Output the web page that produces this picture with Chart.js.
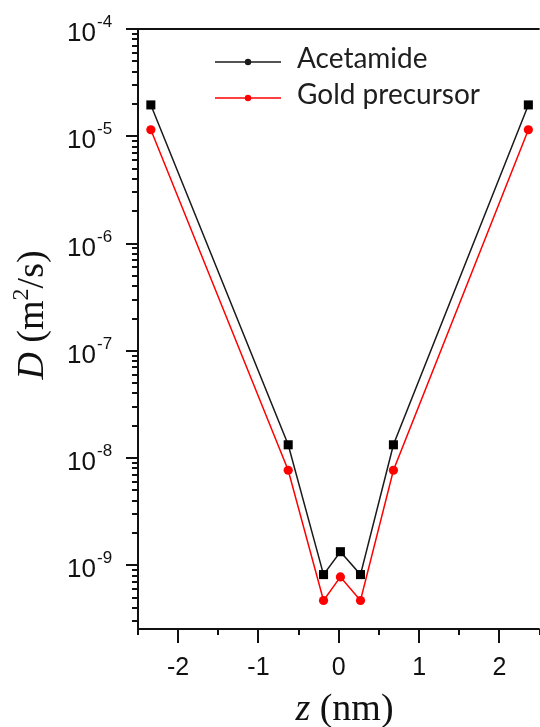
<!DOCTYPE html>
<html>
<head>
<meta charset="utf-8">
<script src="https://cdn.jsdelivr.net/npm/chart.js@4/dist/chart.umd.min.js"></script>
<style>
html,body{margin:0;padding:0;background:#fff;overflow:hidden;}
#wrap{width:546px;height:727px;}
</style>
</head>
<body>
<div id="wrap"><canvas id="c" width="546" height="727"></canvas></div>
<script>
// ---- data ----
const zValues = [-2.34, -0.63, -0.19, 0.02, 0.27, 0.68, 2.36];
const acetamideD = [1.96e-5, 1.33e-8, 8.2e-10, 1.34e-9, 8.2e-10, 1.33e-8, 1.96e-5];
const goldD = [1.15e-5, 7.7e-9, 4.7e-10, 7.8e-10, 4.7e-10, 7.7e-9, 1.15e-5];
const seriesNames = ['Acetamide', 'Gold precursor'];
const xTickLabels = [-2, -1, 0, 1, 2];
const xMinorTicks = [-2.5, -1.5, -0.5, 0.5, 1.5, 2.5];
const yDecadeExponents = [-4, -5, -6, -7, -8, -9];

const toPoints = (xs, ys) => xs.map((x, i) => ({x: x, y: ys[i]}));

const axisColor = '#111';

const decorPlugin = {
  id: 'decor',
  afterDraw(chart) {
    const ctx = chart.ctx;
    const a = chart.chartArea;
    const xs = chart.scales.x, ys = chart.scales.y;
    ctx.save();
    ctx.strokeStyle = axisColor;
    ctx.lineWidth = 2;
    ctx.lineCap = 'butt';
    // axes and top frame
    ctx.beginPath();
    ctx.moveTo(a.left, a.top); ctx.lineTo(a.left, a.bottom);
    ctx.moveTo(a.left - 1, a.bottom); ctx.lineTo(a.right, a.bottom);
    ctx.moveTo(a.left, a.top); ctx.lineTo(a.right, a.top);
    ctx.stroke();
    // y ticks
    ctx.lineWidth = 2;
    ctx.beginPath();
    yDecadeExponents.forEach(e => {
      const py = Math.round(ys.getPixelForValue(Math.pow(10, e)));
      ctx.moveTo(a.left, py); ctx.lineTo(a.left - 12, py);
      for (let k = 2; k <= 9; k++) {
        const v = k * Math.pow(10, e - 1);
        if (v < ys.min) continue;
        const pm = Math.round(ys.getPixelForValue(v));
        ctx.moveTo(a.left, pm); ctx.lineTo(a.left - 6, pm);
      }
    });
    // x ticks
    xTickLabels.forEach(v => {
      const px = Math.round(xs.getPixelForValue(v));
      ctx.moveTo(px, a.bottom); ctx.lineTo(px, a.bottom + 14);
    });
    xMinorTicks.forEach(v => {
      const px = Math.round(xs.getPixelForValue(v));
      ctx.moveTo(px, a.bottom); ctx.lineTo(px, a.bottom + 6);
    });
    ctx.stroke();

    // y tick labels
    ctx.fillStyle = axisColor;
    yDecadeExponents.forEach(e => {
      const py = ys.getPixelForValue(Math.pow(10, e));
      ctx.font = '26px "Liberation Sans", Arial, sans-serif';
      ctx.textAlign = 'right';
      ctx.textBaseline = 'alphabetic';
      ctx.fillText('10', a.left - 42, py + 12);
      ctx.font = '17px "Liberation Sans", Arial, sans-serif';
      ctx.textAlign = 'left';
      ctx.fillText('-' + Math.abs(e), a.left - 41, py - 2);
    });
    // x tick labels
    ctx.font = '25px "Liberation Sans", Arial, sans-serif';
    ctx.textAlign = 'center';
    xTickLabels.forEach(v => {
      const px = xs.getPixelForValue(v);
      ctx.fillText(String(v), px, a.bottom + 46);
    });

    // x title: z (nm)
    const serif = '"Liberation Serif", "Times New Roman", serif';
    ctx.textAlign = 'left';
    ctx.font = 'italic 38px ' + serif;
    const zW = ctx.measureText('z').width;
    ctx.font = '38px ' + serif;
    const restW = ctx.measureText(' (nm)').width;
    const cx = (a.left + 545) / 2 + 3;
    let sx = cx - (zW + restW) / 2;
    ctx.font = 'italic 38px ' + serif;
    ctx.fillText('z', sx, 720);
    ctx.font = '38px ' + serif;
    ctx.fillText(' (nm)', sx + zW, 720);

    // y title: D (m2/s)
    ctx.save();
    ctx.translate(43, 315);
    ctx.rotate(-Math.PI / 2);
    const parts = [
      {t: 'D', f: 'italic 38px ' + serif, dy: 0},
      {t: ' (m', f: '38px ' + serif, dy: 0},
      {t: '2', f: '24px ' + serif, dy: -15},
      {t: '/s)', f: '38px ' + serif, dy: 0}
    ];
    let total = 0;
    parts.forEach(p => { ctx.font = p.f; p.w = ctx.measureText(p.t).width; total += p.w; });
    let tx = -total / 2;
    parts.forEach(p => { ctx.font = p.f; ctx.fillText(p.t, tx, p.dy); tx += p.w; });
    ctx.restore();

    // legend
    const legend = [
      {name: seriesNames[0], color: '#1a1a1a', y: 62},
      {name: seriesNames[1], color: '#ff0000', y: 98}
    ];
    legend.forEach(l => {
      ctx.strokeStyle = l.color;
      ctx.lineWidth = 1.5;
      ctx.beginPath();
      ctx.moveTo(215, l.y); ctx.lineTo(281, l.y);
      ctx.stroke();
      ctx.fillStyle = l.color;
      ctx.beginPath();
      ctx.arc(248, l.y, 3.2, 0, Math.PI * 2);
      ctx.fill();
      ctx.fillStyle = '#1e1e1e';
      ctx.font = '28px Lato, "Open Sans", sans-serif';
      ctx.textAlign = 'left';
      ctx.fillText(l.name, 297, l.y + 6);
    });
    ctx.restore();
  }
};

new Chart(document.getElementById('c'), {
  type: 'scatter',
  data: {
    datasets: [
      {
        label: seriesNames[0],
        data: toPoints(zValues, acetamideD),
        showLine: true,
        borderColor: '#1a1a1a',
        backgroundColor: '#000',
        borderWidth: 1.5,
        pointStyle: 'rect',
        pointRadius: 6.4,
        pointBorderWidth: 0,
        pointHoverRadius: 6.4,
        clip: false
      },
      {
        label: seriesNames[1],
        data: toPoints(zValues, goldD),
        showLine: true,
        borderColor: '#ff0000',
        backgroundColor: '#ff0000',
        borderWidth: 1.5,
        pointStyle: 'circle',
        pointRadius: 4.6,
        pointBorderWidth: 0,
        pointHoverRadius: 4.6,
        clip: false
      }
    ]
  },
  options: {
    responsive: false,
    animation: false,
    events: [],
    layout: {padding: {top: 29, right: 1, left: 0, bottom: 0}},
    plugins: {legend: {display: false}, tooltip: {enabled: false}},
    scales: {
      x: {
        type: 'linear', min: -2.5, max: 2.5,
        ticks: {display: false},
        grid: {display: false},
        border: {display: false},
        afterFit(s) { s.height = 98; }
      },
      y: {
        type: 'logarithmic', min: 2.55e-10, max: 1e-4,
        ticks: {display: false},
        grid: {display: false},
        border: {display: false},
        afterFit(s) { s.width = 138; }
      }
    }
  },
  plugins: [decorPlugin]
});
</script>
</body>
</html>
